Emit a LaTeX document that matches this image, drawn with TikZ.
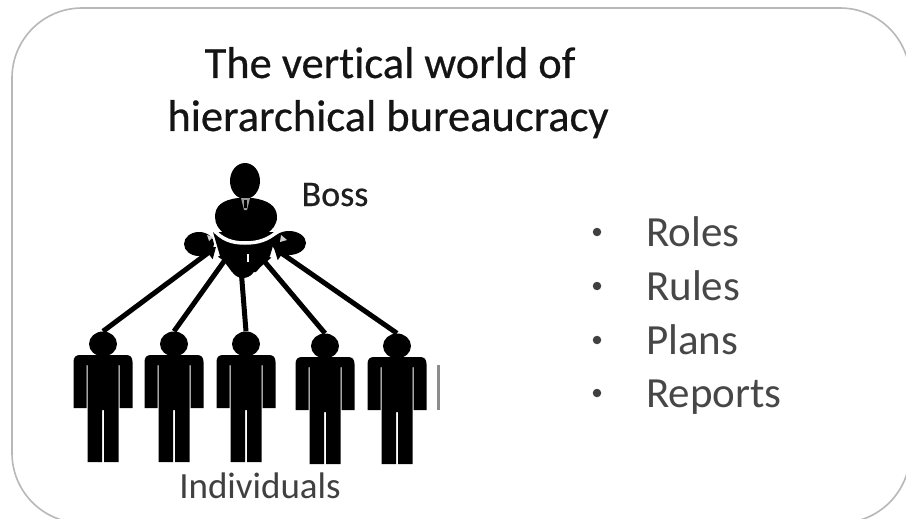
\documentclass[tikz,border=0pt]{standalone}
\usepackage{fontspec}
\setmainfont{Carlito}
\newfontfamily\heavyfont[FakeBold=0.5]{Carlito}
\usetikzlibrary{arrows.meta,shapes.geometric}
\tikzset{
  x=1pt,y=-1pt,
  frame/.style={draw=black!28,line width=1.6pt,fill=white,rounded corners=70pt},
  headnode/.style={ellipse,fill=black,inner sep=0pt,minimum width=28pt,minimum height=25pt},
  smallhead/.style={ellipse,fill=black,inner sep=0pt,minimum width=#1,minimum height=24pt},
  link/.style={draw=black,line width=5pt,-{Triangle[length=10pt,width=15pt]}},
  title/.style={font=\heavyfont\fontsize{44.5}{45}\selectfont,text=black!92,inner sep=0pt,anchor=base},
  caption/.style={font=\fontsize{37}{37}\selectfont,text=black!75,inner sep=0pt,anchor=base},
  listitem/.style={font=\fontsize{43}{43}\selectfont,text=black!72,inner sep=0pt,anchor=base west},
  bulletnode/.style={circle,fill=black!75,inner sep=0pt,minimum size=8.5pt},
  person/.pic={
    \fill[black] (-29.5,18) .. controls (-29.5,13) and (-27,11) .. (-23,11) -- (23,11)
      .. controls (27,11) and (29.5,13) .. (29.5,18) -- (29.5,64) -- (16.5,64) -- (16.5,21) -- (15.5,21)
      -- (15.5,118) -- (1,118) -- (1,66) -- (-1,66) -- (-1,118) -- (-15.5,118) -- (-15.5,21) -- (-16.5,21)
      -- (-16.5,64) -- (-29.5,64) -- cycle;
  }
}
\begin{document}
\begin{tikzpicture}
\useasboundingbox (0,0) rectangle (906,519);
\fill[white] (0,0) rectangle (906,519);
\begin{scope}
\clip (0,0) rectangle (906,519);
\draw[frame] (12,8) rectangle (910,523);
\end{scope}

\node[title] (t1) at (390,78) {The ver\kern0pt t\kern0pt ical world of};
\node[title] (t2) at (388,131) {hierarchical bureaucracy};
\node[font=\heavyfont\fontsize{36}{36}\selectfont,text=black!88,inner sep=0pt,anchor=base] (boss) at (335,206) {Boss};

% boss figure
\node[ellipse,fill=black,inner sep=0pt,minimum width=30pt,minimum height=36pt] (bhead) at (245,181) {};
\fill[black] (238,198) .. controls (222,200) and (215,206) .. (215,217)
  .. controls (215,232) and (232,240) .. (245,240)
  .. controls (258,240) and (277,232) .. (277,217)
  .. controls (277,206) and (268,200) .. (252,198) -- cycle;
\fill[black!40] (241,198) -- (250,198) -- (247,210) -- (244,210) -- cycle;
\fill[black] (244,200) -- (247,200) -- (247,208) -- (244,208) -- cycle;
\node[smallhead=30pt] (lhead) at (199,244) {};
\node[smallhead=34pt] (rhead) at (289,243) {};
\node[smallhead=27pt,minimum height=30pt] (mhead) at (243,263) {};
\fill[black] (213,232) -- (277,232) -- (270,256) -- (256,272) -- (232,272) -- (220,256) -- cycle;
\draw[white,line width=3.5pt] (212,228) .. controls (222,240) and (232,243) .. (245,243)
  .. controls (258,243) and (268,240) .. (278,231);
\fill[white] (246.5,254) rectangle (249,262);
\fill[black!18] (207,235) -- (213,237) -- (209,241) -- cycle;
\fill[black!18] (281,235) -- (287,240) -- (280,242) -- cycle;

% individuals
\foreach \n/\x/\y in {a/103/344,b/174/344,c/246/344,d/325/346,e/397/346}{
  \node[headnode] (\n) at (\x,\y) {};
  \path (\x,\y) pic {person};
}
\fill[black!45] (437,365) rectangle (439.5,410);

\coordinate (ea) at (216,247);
\coordinate (eb) at (230,253);
\coordinate (ec) at (240,256);
\coordinate (ed) at (259,255);
\coordinate (ee) at (274,248);
\draw[link] (a.north) -- (ea);
\draw[link] (b.north) -- (eb);
\draw[link] (c.north) -- (ec);
\draw[link] (d.north) -- (ed);
\draw[link] (e.north) -- (ee);

\node[caption] (ind) at (260,498) {Individuals};

\foreach \n/\y/\by/\txt in {1/246/232/Roles,2/300/286/Rules,3/354/340/Plans,4/407/393/Reports}{
  \node[bulletnode] (b\n) at (597,\by) {};
  \node[listitem] (l\n) at (646,\y) {\txt};
}
\end{tikzpicture}
\end{document}
